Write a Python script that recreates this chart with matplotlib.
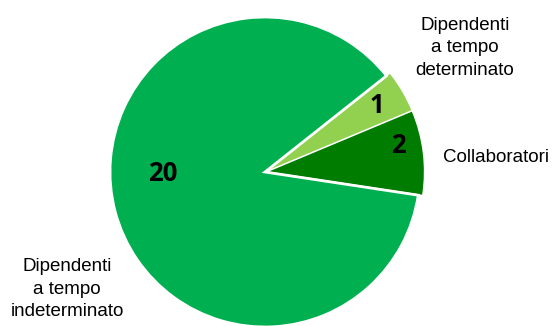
import matplotlib.pyplot as plt

values = [2, 1, 20]
labels = ["Collaboratori", "Dipendenti\na tempo\ndeterminato", "Dipendenti\na tempo\nindeterminato"]
colors = ["#007D00", "#92D050", "#00B050"]

fig = plt.figure(figsize=(5.54, 3.26), dpi=100)
ax = fig.add_axes([0, 0, 1, 1])

R = 155.0  # pie radius in pixels
cx, cy = 265.0, 172.0  # pie centre (pixels, from top-left)

wedges, _ = ax.pie(values, colors=colors, startangle=-8.6, counterclock=True,
                   explode=[0.025, 0.025, 0], radius=1)
# only the big slice gets a white outline; the two small ones sit together
for w in wedges[:2]:
    w.set_linewidth(0)
wedges[2].set_edgecolor("white")
wedges[2].set_linewidth(2)

ax.set_xlim(-cx / R, (554 - cx) / R)
ax.set_ylim(-(326 - cy) / R, cy / R)
ax.set_aspect("auto")
ax.axis("off")


def px(x, y):
    return (x - cx) / R, (cy - y) / R


num_pos = [(398, 146), (377, 106), (163, 174)]
for v, (x, y) in zip(values, num_pos):
    ax.text(*px(x, y), str(v), ha="center", va="center",
            fontsize=18.5, fontweight="bold", family=["Open Sans", "DejaVu Sans"])

lab_pos = [(496, 158), (465, 48), (67, 289)]
for lab, (x, y) in zip(labels, lab_pos):
    ax.text(*px(x, y), lab, ha="center", va="center", fontsize=13.5,
            family=["Liberation Sans", "DejaVu Sans"], linespacing=1.45)

fig.savefig("out.png", dpi=100)
